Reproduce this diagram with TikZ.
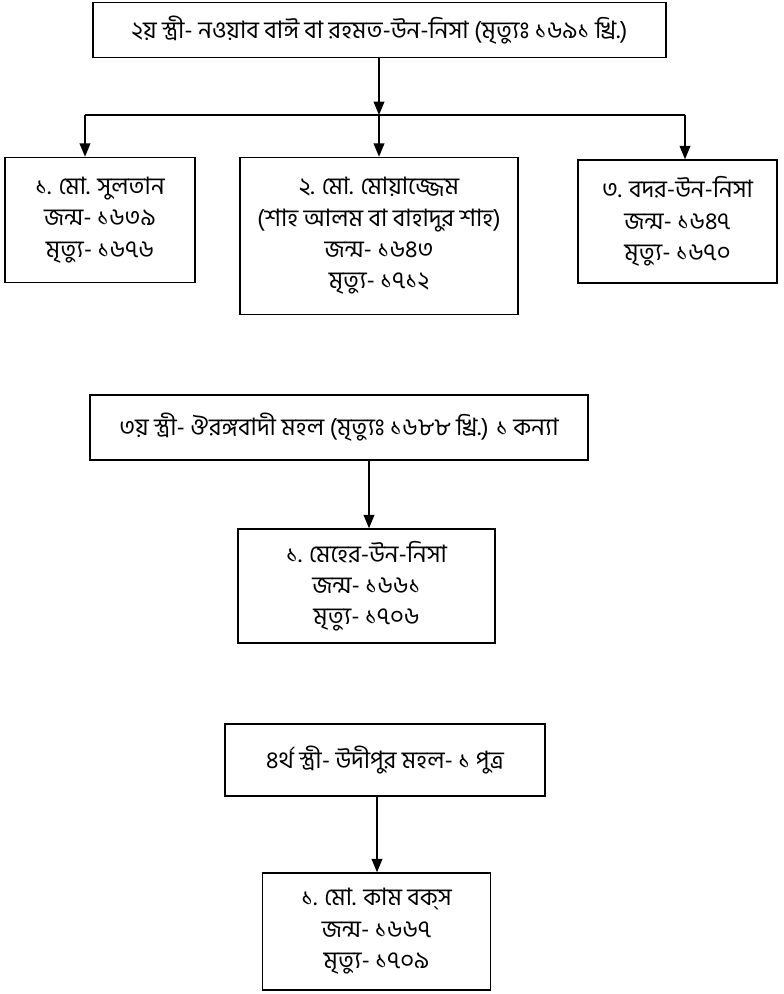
\documentclass[tikz,border=0pt]{standalone}
\usepackage{fontspec}
\newfontfamily\bnfont[Script=Bengali]{Hind Siliguri}
\usetikzlibrary{arrows.meta}

\begin{document}
\begin{tikzpicture}[x=0.75pt,y=0.75pt,yscale=-1,xscale=1,
    famBox/.style={draw,line width=1.1pt,inner sep=0pt,align=center,
      font=\bnfont\fontsize{18}{23.5}\selectfont},
    link/.style={line width=1.1pt,-{Triangle[width=8pt,length=10pt]}}]
  \useasboundingbox (0,0) rectangle (783,994);

  %2nd wife and her children
  \node[famBox,minimum width=429.75pt,minimum height=41.25pt] (wifeB) at (379.5,30) {২য় স্ত্রী- নওয়াব বাঈ বা রহমত-উন-নিসা (মৃত্যুঃ ১৬৯১ খ্রি.)};
  \node[famBox,minimum width=142.5pt,minimum height=93.75pt] (sonA) at (100,220) {১. মো. সুলতান\\জন্ম- ১৬৩৯\\মৃত্যু- ১৬৭৬};
  \node[famBox,minimum width=208.5pt,minimum height=117.75pt] (sonB) at (379,236) {২. মো. মোয়াজ্জেম\\(শাহ আলম বা বাহাদুর শাহ)\\জন্ম- ১৬৪৩\\মৃত্যু- ১৭১২};
  \node[famBox,minimum width=149.25pt,minimum height=92.25pt] (daughterA) at (677.5,221.5) {৩. বদর-উন-নিসা\\জন্ম- ১৬৪৭\\মৃত্যু- ১৬৭০};

  \coordinate (jMid) at (379,115);
  \coordinate (jLeft) at (85,115);
  \coordinate (jRight) at (685,115);
  \draw[link] (wifeB.south -| jMid) -- (jMid);
  \draw[line width=1.1pt] (jLeft) -- (jRight);
  \draw[link] (jLeft) -- (jLeft |- sonA.north);
  \draw[link] (jMid) -- (jMid |- sonB.north);
  \draw[link] (jRight) -- (jRight |- daughterA.north);

  %3rd wife
  \node[famBox,minimum width=373.5pt,minimum height=48.75pt] (wifeC) at (339,427.5) {৩য় স্ত্রী- ঔরঙ্গবাদী মহল (মৃত্যুঃ ১৬৮৮ খ্রি.) ১ কন্যা};
  \node[famBox,minimum width=192.75pt,minimum height=85.5pt] (daughterB) at (366.5,586) {১. মেহের-উন-নিসা\\জন্ম- ১৬৬১\\মৃত্যু- ১৭০৬};
  \draw[link] (wifeC.south -| 369,0) -- (daughterB.north -| 369,0);

  %4th wife
  \node[famBox,minimum width=240pt,minimum height=54pt] (wifeD) at (385,760) {৪র্থ স্ত্রী- উদীপুর মহল- ১ পুত্র};
  \node[famBox,minimum width=171pt,minimum height=87.75pt] (sonC) at (376.5,931.5) {১. মো. কাম বক্^^^^200cস\\জন্ম- ১৬৬৭\\মৃত্যু- ১৭০৯};
  \draw[link] (wifeD.south -| 377,0) -- (sonC.north -| 377,0);
\end{tikzpicture}
\end{document}
